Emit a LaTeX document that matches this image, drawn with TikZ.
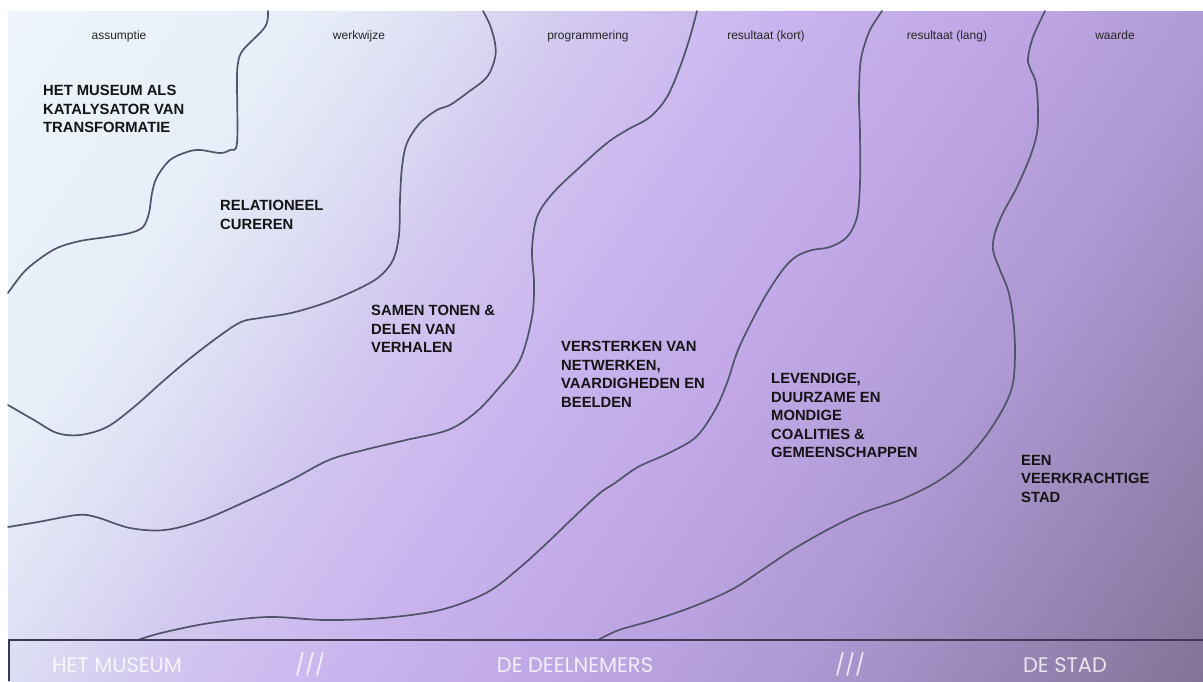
\documentclass[tikz,border=0pt]{standalone}
\usepackage{fontspec}
\setmainfont{Liberation Sans}
\newfontfamily\barfont{Poppins}
\definecolor{g0}{HTML}{EEF4FA}
\definecolor{g1}{HTML}{E8EEF8}
\definecolor{g2}{HTML}{DEE0F4}
\definecolor{g3}{HTML}{D2C6F0}
\definecolor{g4}{HTML}{C9B4EE}
\definecolor{g5}{HTML}{BEA6E4}
\definecolor{g6}{HTML}{AE99D3}
\definecolor{g7}{HTML}{9C8ABC}
\definecolor{g8}{HTML}{837397}
\definecolor{curvecol}{HTML}{50546A}
\definecolor{barcol}{HTML}{3C3A50}
\pgfdeclarehorizontalshading{bgshade}{100bp}{color(0bp)=(g0); color(15.3bp)=(g0); color(27.8bp)=(g1); color(33.3bp)=(g2); color(40.3bp)=(g3); color(48.6bp)=(g4); color(58.3bp)=(g5); color(67.4bp)=(g6); color(74.3bp)=(g7); color(84.7bp)=(g8); color(100bp)=(g8)}
\tikzset{
  curve/.style={draw=curvecol, line width=1.7pt, line join=round, line cap=round},
  hdr/.style={anchor=base, inner sep=0pt, font=\fontsize{12}{14}\selectfont, text=black!85},
  lab/.style={anchor=north west, inner sep=0pt, align=left, font=\bfseries\fontsize{14.8}{18.5}\selectfont, text=black!92},
  bartext/.style={anchor=base, inner sep=0pt, font=\barfont\fontsize{21}{24}\selectfont, text=white, text opacity=0.8},
  barline/.style={draw=barcol, line width=1.5pt}
}
\begin{document}
\begin{tikzpicture}[x=1pt,y=-1pt]
\useasboundingbox (0,0) rectangle (1203,681);
\fill[white] (0,0) rectangle (1203,681);
\shade[shading=bgshade, shading angle=-33.7] (8,11) rectangle (1203,681);

% curves
\draw[curve] plot[smooth, tension=0.55] coordinates {(268,11) (265,27) (243,50) (238,63) (237,80) (237,143) (230,150) (220,153) (200,150) (187,152) (170,160) (157,177) (152,193) (149,213) (143,227) (130,233) (107,237) (80,241) (57,248) (38,260) (23,273) (8,293)};
\draw[curve] plot[smooth, tension=0.55] coordinates {(483,11) (490,25) (495,43) (495,58) (487,77) (467,93) (450,105) (437,110) (420,123) (407,143) (402,167) (400,200) (399,235) (393,260) (379,277) (356,290) (325,303) (291,313) (260,318) (241,322) (218,337) (188,360) (161,383) (134,407) (107,427) (80,435) (57,433) (34,420) (8,405)};
\draw[curve] plot[smooth, tension=0.55] coordinates {(697,11) (690,37) (680,67) (667,97) (650,117) (627,130) (607,143) (580,167) (553,193) (537,217) (532,250) (534,283) (532,317) (520,360) (497,390) (475,413) (448,430) (406,440) (364,450) (329,460) (291,480) (249,500) (203,520) (165,530) (130,528) (96,517) (77,515) (38,522) (8,527)};
\draw[curve] plot[smooth, tension=0.55] coordinates {(882,11) (870,30) (863,50) (860,67) (859,100) (860,133) (860,183) (857,217) (847,237) (830,247) (812,250) (797,256) (785,267) (769,290) (754,317) (738,350) (727,383) (715,410) (696,437) (669,453) (638,467) (615,483) (600,493) (574,517) (547,543) (517,570) (486,593) (440,610) (383,618) (325,620) (268,617) (210,623) (161,633) (138,640)};
\draw[curve] plot[smooth, tension=0.55] coordinates {(1045,11) (1033,37) (1028,58) (1030,68) (1036,83) (1038,110) (1037,133) (1030,157) (1017,187) (1003,213) (995,233) (993,250) (1000,270) (1008,290) (1013,317) (1015,350) (1013,383) (1004,407) (985,437) (962,463) (935,483) (900,500) (862,513) (827,530) (792,550) (762,570) (731,590) (692,607) (654,620) (619,630) (598,640)};

% headers
\node[hdr] (h1) at (119,39) {assumptie};
\node[hdr] (h2) at (359,39) {werkwijze};
\node[hdr] (h3) at (588,39) {programmering};
\node[hdr] (h4) at (766,39) {resultaat (kort)};
\node[hdr] (h5) at (947,39) {resultaat (lang)};
\node[hdr] (h6) at (1115,39) {waarde};

% labels
\node[lab] (l1) at (43,85) {HET MUSEUM ALS\\KATALYSATOR VAN\\TRANSFORMATIE};
\node[lab] (l2) at (220,200) {RELATIONEEL\\CUREREN};
\node[lab] (l3) at (371,305) {SAMEN TONEN \&\\DELEN VAN\\VERHALEN};
\node[lab] (l4) at (561,341) {VERSTERKEN VAN\\NETWERKEN,\\VAARDIGHEDEN EN\\BEELDEN};
\node[lab] (l5) at (771,373) {LEVENDIGE,\\DUURZAME EN\\MONDIGE\\COALITIES \&\\GEMEENSCHAPPEN};
\node[lab] (l6) at (1021,455) {EEN\\VEERKRACHTIGE\\STAD};

% bottom bar
\draw[barline] (9,681) -- (9,640) -- (1203,640);
\node[bartext] (b1) at (117,672) {HET MUSEUM};
\node[bartext] (b2) at (310,672) {///};
\node[bartext] (b3) at (575,672) {DE DEELNEMERS};
\node[bartext] (b4) at (850,672) {///};
\node[bartext] (b5) at (1065,672) {DE STAD};
\end{tikzpicture}
\end{document}
